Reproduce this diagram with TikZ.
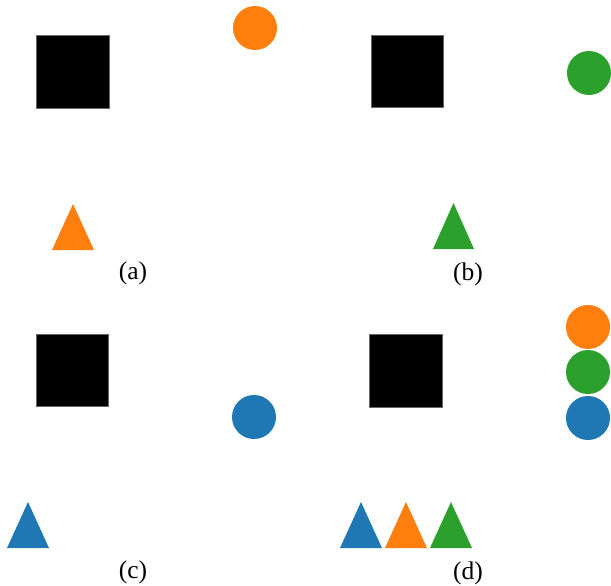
\documentclass[tikz,border=0pt]{standalone}
\usepackage{fontspec}
\setmainfont{Liberation Serif}
\definecolor{tabblue}{HTML}{1F77B4}
\definecolor{taborange}{HTML}{FF7F0E}
\definecolor{tabgreen}{HTML}{2CA02C}
\tikzset{
  sq/.style={fill=black, draw=black!60, line width=0.6pt},
  dot/.style={circle, minimum size=44pt, inner sep=0pt, outer sep=0pt},
  lbl/.style={font=\fontsize{25.5}{30}\selectfont, inner sep=0pt}
}
\newcommand{\tri}[4]{% x-left, x-right, base y, colour
  \fill[#4] (#1,#3) -- ({(#1+#2)/2},{#3-46}) -- (#2,#3) -- cycle;}
\begin{document}
\begin{tikzpicture}[x=1pt,y=-1pt]
\useasboundingbox (0,0) rectangle (611,586);
% (a)
\draw[sq] (36,35) rectangle (109,108);
\node[dot, fill=taborange] (ca) at (255,28) {};
\tri{52}{94}{250}{taborange}
\node[lbl] (la) at (133,273) {(a)};
% (b)
\draw[sq] (371,35) rectangle (443,107);
\node[dot, fill=tabgreen] (cb) at (589,73) {};
\tri{433}{474}{249}{tabgreen}
\node[lbl] (lb) at (468,274) {(b)};
% (c)
\draw[sq] (36,334) rectangle (108,406);
\node[dot, fill=tabblue] (cc) at (254,417) {};
\tri{7}{49}{548}{tabblue}
\node[lbl] (lc) at (133,572) {(c)};
% (d)
\draw[sq] (369,334) rectangle (442,407);
\node[dot, fill=taborange] (d1) at (588,327) {};
\node[dot, fill=tabgreen] (d2) at (588,372) {};
\node[dot, fill=tabblue] (d3) at (588,418) {};
\tri{340}{382}{548}{tabblue}
\tri{385}{427}{548}{taborange}
\tri{430}{472}{548}{tabgreen}
\node[lbl] (ld) at (468,573) {(d)};
\end{tikzpicture}
\end{document}
